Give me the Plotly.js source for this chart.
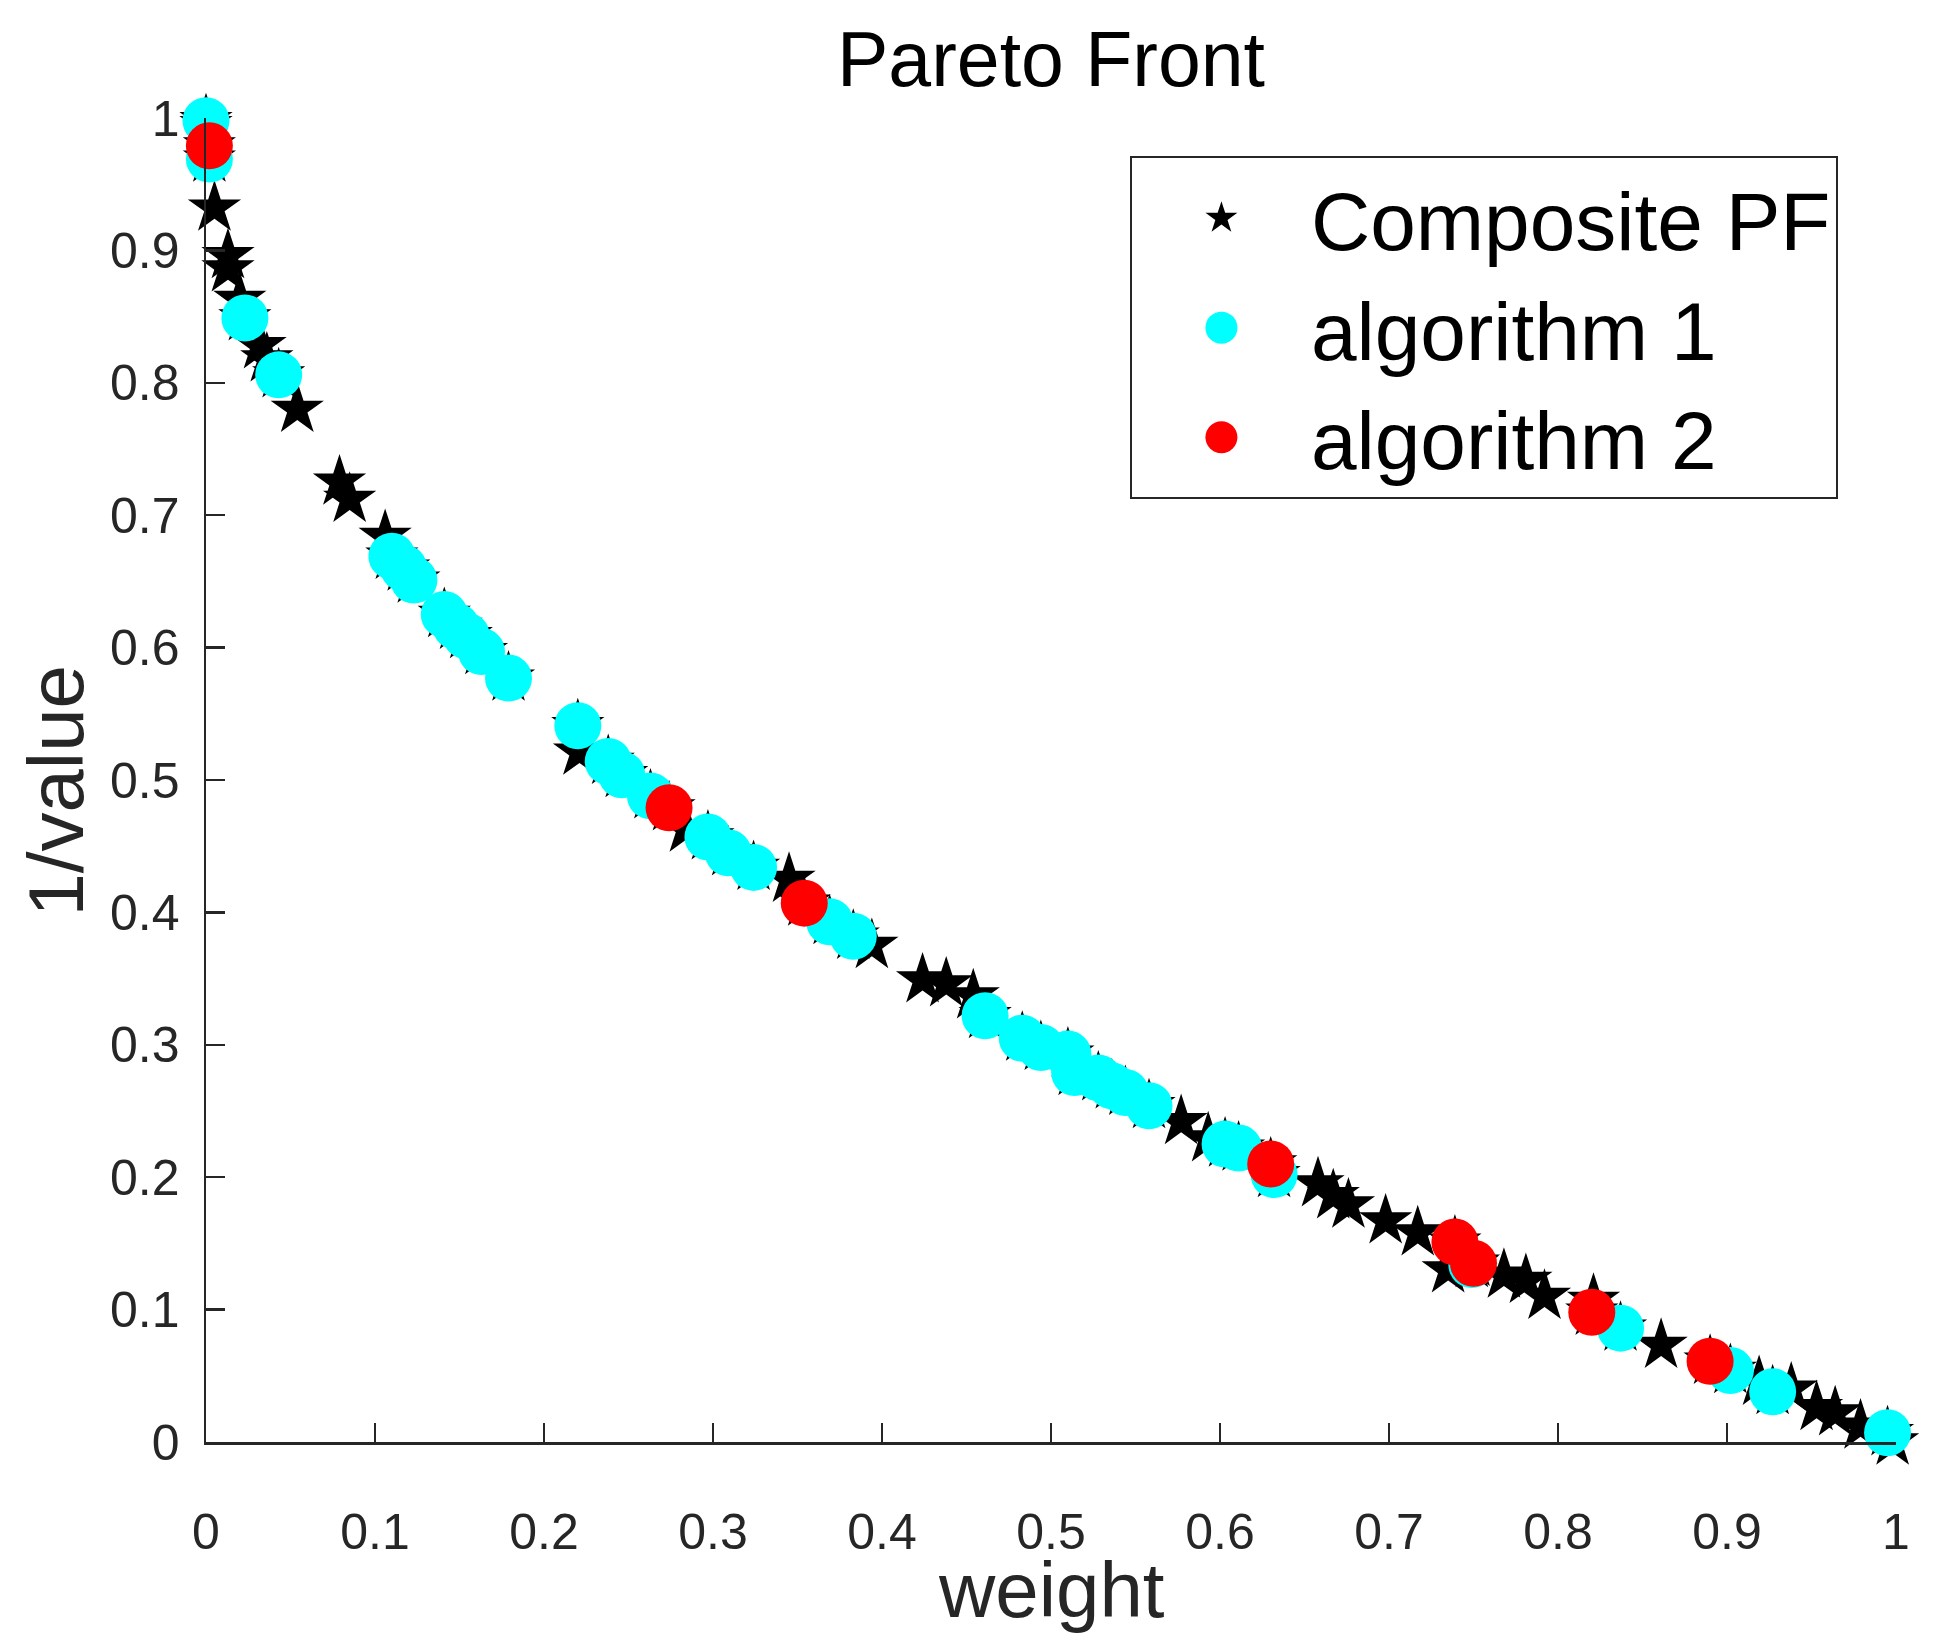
<!DOCTYPE html>
<html>
<head>
<meta charset="utf-8">
<script src="https://cdn.plot.ly/plotly-3.0.1.min.js"></script>
<style>
  html, body { margin: 0; padding: 0; background: #fff; }
  #chart { width: 1938px; height: 1650px; }
</style>
</head>
<body>
<div id="chart"></div>
<script>
// tick values / labels (same on both axes)
const tickVals = [0, 0.1, 0.2, 0.3, 0.4, 0.5, 0.6, 0.7, 0.8, 0.9, 1];
const tickText = ['0', '0.1', '0.2', '0.3', '0.4', '0.5', '0.6', '0.7', '0.8', '0.9', '1'];

// algorithm 1 (cyan)
const alg1X = [0.000, 0.002, 0.023, 0.043, 0.110, 0.117, 0.123, 0.141, 0.148, 0.154,
               0.163, 0.179, 0.220, 0.238, 0.246, 0.263, 0.297, 0.309, 0.324, 0.369,
               0.383, 0.461, 0.483, 0.494, 0.510, 0.514, 0.528, 0.536, 0.544, 0.558,
               0.603, 0.611, 0.632, 0.749, 0.837, 0.902, 0.927, 0.995];
const alg1Y = [0.998, 0.969, 0.849, 0.806, 0.669, 0.660, 0.651, 0.625, 0.616, 0.609,
               0.597, 0.577, 0.541, 0.514, 0.504, 0.488, 0.457, 0.445, 0.434, 0.393,
               0.382, 0.322, 0.305, 0.298, 0.293, 0.279, 0.275, 0.269, 0.264, 0.254,
               0.225, 0.222, 0.202, 0.134, 0.086, 0.054, 0.038, 0.007];

// algorithm 2 (red)
const alg2X = [0.002, 0.274, 0.354, 0.630, 0.739, 0.750, 0.820, 0.890];
const alg2Y = [0.979, 0.479, 0.407, 0.210, 0.151, 0.135, 0.098, 0.061];

// composite PF points that are not covered by a circle
const pfOnlyX = [0.000, 0.005, 0.013, 0.013, 0.020, 0.032, 0.036, 0.054, 0.079, 0.085,
                 0.106, 0.221, 0.284, 0.345, 0.394, 0.424, 0.438, 0.454, 0.577, 0.593,
                 0.658, 0.667, 0.676, 0.698, 0.717, 0.735, 0.768, 0.781, 0.792, 0.821,
                 0.861, 0.919, 0.938, 0.953, 0.964, 0.979, 0.998];
const pfOnlyY = [0.995, 0.932, 0.896, 0.886, 0.863, 0.828, 0.818, 0.780, 0.725, 0.712,
                 0.684, 0.521, 0.463, 0.425, 0.375, 0.349, 0.346, 0.337, 0.242, 0.229,
                 0.195, 0.186, 0.179, 0.167, 0.158, 0.130, 0.126, 0.122, 0.110, 0.107,
                 0.073, 0.045, 0.040, 0.026, 0.022, 0.012, 0.000];

// composite front = union of everything
const pfX = pfOnlyX.concat(alg1X, alg2X);
const pfY = pfOnlyY.concat(alg1Y, alg2Y);

const axisCol = '#262626';
const fontFam = 'Liberation Sans, Arial, Helvetica, sans-serif';
const labelFont = { family: fontFam, size: 78, color: axisCol };

const traces = [
  { x: pfX, y: pfY, name: 'Composite PF', type: 'scatter', mode: 'markers',
    cliponaxis: false, marker: { symbol: 'star', size: 40, color: '#000000' } },
  { x: alg1X, y: alg1Y, name: 'algorithm 1', type: 'scatter', mode: 'markers',
    cliponaxis: false, marker: { symbol: 'circle', size: 47, color: '#00ffff' } },
  { x: alg2X, y: alg2Y, name: 'algorithm 2', type: 'scatter', mode: 'markers',
    cliponaxis: false, marker: { symbol: 'circle', size: 47, color: '#ff0000' } }
];

function axis(labelGap) {
  return {
    range: [0, 1],
    tickvals: tickVals,
    ticktext: tickText,
    ticks: 'inside',
    ticklen: 19,
    tickwidth: 2.5,
    tickcolor: axisCol,
    showline: true,
    linewidth: 2.5,
    linecolor: axisCol,
    showgrid: false,
    zeroline: false,
    automargin: false,
    ticklabelstandoff: labelGap,
    tickfont: { family: fontFam, size: 50, color: axisCol }
  };
}

const layout = {
  width: 1938,
  height: 1650,
  margin: { l: 206, r: 42, t: 118, b: 208 },
  paper_bgcolor: '#ffffff',
  plot_bgcolor: '#ffffff',
  title: { text: 'Pareto Front', x: 0.5, xref: 'paper', y: 0.9805, yanchor: 'top',
           font: { family: fontFam, size: 77, color: '#000000' } },
  xaxis: axis(44),
  yaxis: axis(14),
  // axis titles as annotations so they can sit where matlab puts them
  annotations: [
    { text: 'weight', xref: 'paper', yref: 'paper', x: 0.5, y: -0.112,
      xanchor: 'center', yanchor: 'middle', showarrow: false, font: labelFont },
    { text: '1/value', xref: 'paper', yref: 'paper', x: -0.089, y: 0.4917,
      xanchor: 'center', yanchor: 'middle', textangle: -90, showarrow: false, font: labelFont }
  ],
  showlegend: true,
  legend: {
    x: 0.5467, y: 0.9711, xanchor: 'left', yanchor: 'top',
    bgcolor: '#ffffff', bordercolor: axisCol, borderwidth: 2,
    itemwidth: 169,
    font: { family: fontFam, size: 82, color: '#000000' }
  }
};

Plotly.newPlot('chart', traces, layout, { staticPlot: true }).then(() => {
  // legend symbols are capped at 16px by plotly; blow them up a bit
  const scales = [1.5, 2, 2];
  document.querySelectorAll('.legend .traces').forEach((g, i) => {
    g.querySelectorAll('.legendpoints path.scatterpts').forEach(p => {
      const t = p.getAttribute('transform') || '';
      p.setAttribute('transform', t + ' scale(' + scales[i] + ')');
    });
  });
});
</script>
</body>
</html>
